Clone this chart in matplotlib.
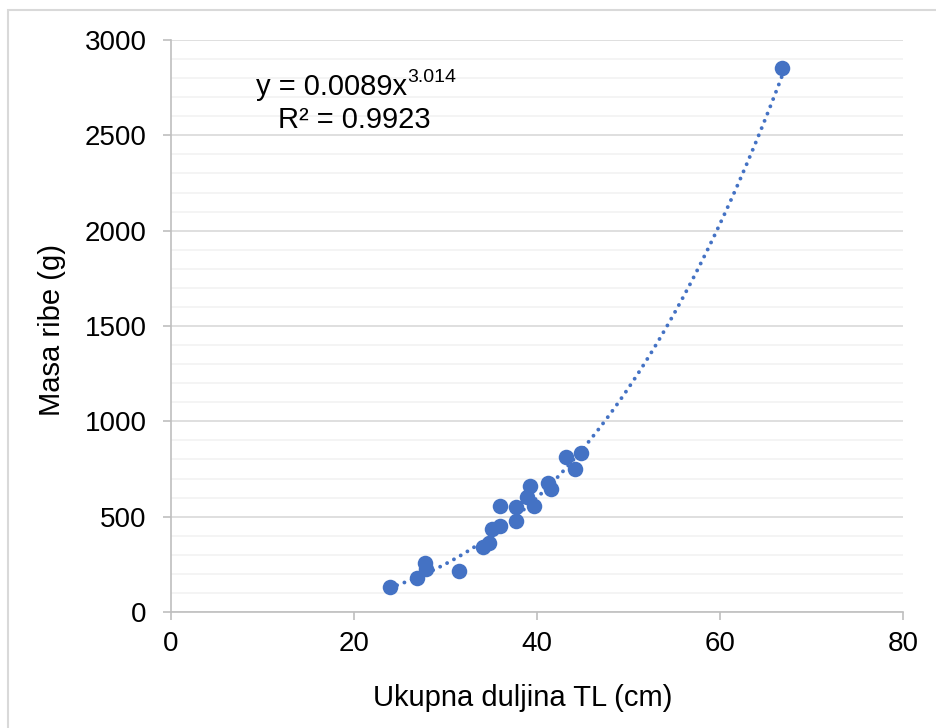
import numpy as np
import matplotlib
matplotlib.use('Agg')
import matplotlib.pyplot as plt
from matplotlib.patches import Rectangle
from matplotlib.ticker import MultipleLocator

plt.rcParams['font.family'] = ['Liberation Sans', 'DejaVu Sans']

# fish length (cm) and mass (g)
length_cm = [23.9, 26.9, 27.8, 27.9, 31.5, 34.1, 34.8, 35.1, 36.0, 36.0,
             37.7, 37.7, 38.9, 39.7, 39.2, 41.2, 41.5, 43.2, 44.8, 44.2, 66.8]
mass_g = [130, 177, 259, 224, 217, 343, 364, 433, 453, 558,
          479, 549, 605, 558, 662, 675, 645, 814, 832, 748, 2852]

# power trend line y = a * x^b
coef_a = 0.0089
coef_b = 3.014
r2 = 0.9923

blue = '#4472C4'

fig = plt.figure(figsize=(9.36, 7.28), dpi=100)
ax = fig.add_axes([171/936, 1 - 612/728, 732/936, 572/728])

# chart area border
fig.patches.append(Rectangle((8/936, -0.1), 1.2, 1 - 10/728 + 0.1,
                             transform=fig.transFigure, fill=False,
                             edgecolor='#D9D9D9', linewidth=1.5))

xs = np.linspace(min(length_cm), max(length_cm), 300)
ax.plot(xs, coef_a * xs ** coef_b, linestyle=(0, (0.01, 2.0)), color=blue,
        linewidth=2.8, dash_capstyle='round', zorder=2)
ax.scatter(length_cm, mass_g, s=125, color=blue, zorder=3, linewidths=0)

ax.set_xlim(0, 80)
ax.set_ylim(0, 3000)
ax.xaxis.set_major_locator(MultipleLocator(20))
ax.yaxis.set_major_locator(MultipleLocator(500))
ax.yaxis.set_minor_locator(MultipleLocator(100))

ax.grid(which='major', axis='y', color='#D9D9D9', linewidth=1.2, zorder=0)
ax.grid(which='minor', axis='y', color='#F2F2F2', linewidth=1.2, zorder=0)
ax.set_axisbelow(True)

for s in ['top', 'right']:
    ax.spines[s].set_visible(False)
for s in ['left', 'bottom']:
    ax.spines[s].set_color('#BFBFBF')
    ax.spines[s].set_linewidth(1.2)

ax.tick_params(which='major', direction='out', length=5.5, width=1.2,
               color='#BFBFBF', labelsize=20, labelcolor='black')
ax.tick_params(axis='x', pad=8)
ax.tick_params(axis='y', pad=12)
ax.tick_params(which='minor', length=0)

ax.set_xlabel('Ukupna duljina TL (cm)', fontsize=21)
ax.set_ylabel('Masa ribe (g)', fontsize=21)
ax.xaxis.set_label_coords(0.481, -0.150)
ax.xaxis.label.set_va('center')
ax.yaxis.set_label_coords(-0.1626, 0.493)
ax.yaxis.label.set_va('center')

ax.text(0.3224, 0.904, 'y = 0.0089x', transform=ax.transAxes, ha='right',
        va='baseline', fontsize=21)
ax.text(0.3224, 0.926, '3.014', transform=ax.transAxes, ha='left',
        va='baseline', fontsize=14)
ax.text(0.2507, 0.846, 'R² = ' + str(r2), transform=ax.transAxes, ha='center',
        va='baseline', fontsize=21)

fig.savefig('out.png', dpi=100)
